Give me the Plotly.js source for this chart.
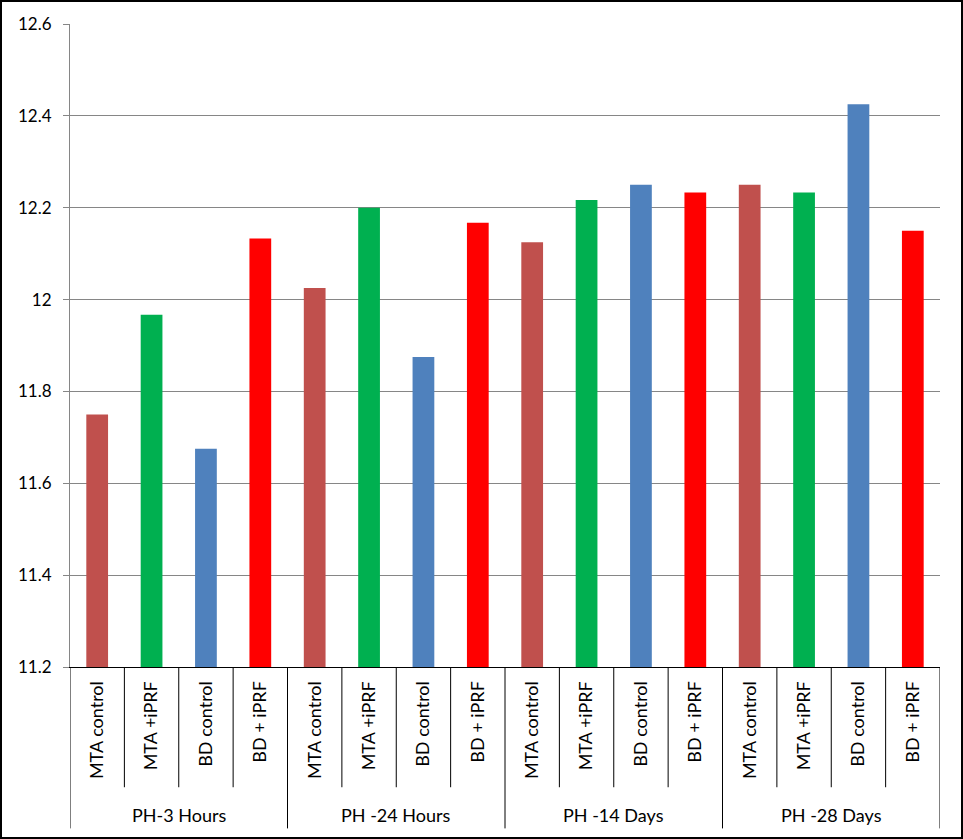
<!DOCTYPE html>
<html>
<head>
<meta charset="utf-8">
<script src="https://cdn.plot.ly/plotly-3.0.1.min.js"></script>
<style>
  html, body { margin: 0; padding: 0; background: #fff; }
  #wrap { position: relative; width: 963px; height: 839px; }
  #chart { width: 963px; height: 839px; }
  #frame { position: absolute; left: 0; top: 0; width: 963px; height: 839px; box-sizing: border-box; border: 2px solid #000; pointer-events: none; }
</style>
</head>
<body>
<div id="wrap"><div id="chart"></div><div id="frame"></div></div>
<script>
// ---- data ----
const groups = ['PH-3 Hours', 'PH -24 Hours', 'PH -14 Days', 'PH -28 Days'];
const treatments = ['MTA control', 'MTA +iPRF', 'BD control', 'BD + iPRF'];
const mtaControl = [11.75, 12.025, 12.125, 12.25];
const mtaIprf    = [11.967, 12.2, 12.217, 12.233];
const bdControl  = [11.675, 11.875, 12.25, 12.425];
const bdIprf     = [12.133, 12.167, 12.233, 12.15];
const seriesValues = [mtaControl, mtaIprf, bdControl, bdIprf];
const seriesColors = ['#C0504D', '#00B050', '#4F81BD', '#FF0000'];
const yTickVals = [11.2, 11.4, 11.6, 11.8, 12, 12.2, 12.4, 12.6];
const yTickText = ['11.2', '11.4', '11.6', '11.8', '12', '12.2', '12.4', '12.6'];

const nT = treatments.length;
const nCat = groups.length * nT;
const FONT = 'Lato, "Open Sans", sans-serif';

const traces = treatments.map((t, ti) => ({
  type: 'bar',
  name: t,
  x: groups.map((g, gi) => gi * nT + ti),
  y: seriesValues[ti],
  width: 0.4,
  marker: { color: seriesColors[ti], line: { width: 0 } },
  base: 0,
  showlegend: false,
  hoverinfo: 'y'
}));

const tickVals = [];
const tickText = [];
for (let gi = 0; gi < groups.length; gi++) {
  for (let ti = 0; ti < nT; ti++) { tickVals.push(gi * nT + ti); tickText.push(treatments[ti]); }
}

const innerBottom = -0.187;
const outerBottom = -0.251;
const shapes = [];
for (let i = 0; i <= nCat; i++) {
  const isGroupEdge = (i % nT === 0);
  shapes.push({
    type: 'line', xref: 'x', yref: 'paper',
    x0: i - 0.5, x1: i - 0.5, y0: 0, y1: isGroupEdge ? outerBottom : innerBottom,
    line: { color: '#000', width: 1 }
  });
}

const annotations = groups.map((g, gi) => ({
  text: g, xref: 'x', yref: 'paper',
  x: gi * nT + (nT - 1) / 2, y: -0.230,
  showarrow: false, xanchor: 'center', yanchor: 'middle',
  font: { family: FONT, size: 18, color: '#000' }
}));

const layout = {
  width: 963, height: 839,
  margin: { l: 70, r: 23, t: 24, b: 172 },
  paper_bgcolor: '#fff', plot_bgcolor: '#fff',
  barmode: 'overlay',
  font: { family: FONT, size: 17, color: '#000' },
  xaxis: {
    range: [-0.5, nCat - 0.5],
    tickmode: 'array', tickvals: tickVals, ticktext: tickText,
    tickangle: -90, ticks: '', showgrid: false, zeroline: false,
    showline: true, linecolor: '#000', linewidth: 1,
    ticklabelstandoff: 6,
    tickfont: { family: FONT, size: 18, color: '#000' },
    fixedrange: true
  },
  yaxis: {
    range: [11.2, 12.6],
    tickmode: 'array', tickvals: yTickVals, ticktext: yTickText,
    showgrid: true, gridcolor: '#868686', gridwidth: 1,
    zeroline: false,
    showline: true, linecolor: '#868686', linewidth: 1,
    ticks: 'outside', ticklen: 6, tickcolor: '#868686',
    ticklabelstandoff: 8,
    tickfont: { family: FONT, size: 17, color: '#000' },
    fixedrange: true
  },
  shapes: shapes,
  annotations: annotations
};

Plotly.newPlot('chart', traces, layout, { displayModeBar: false, staticPlot: true });
</script>
</body>
</html>
